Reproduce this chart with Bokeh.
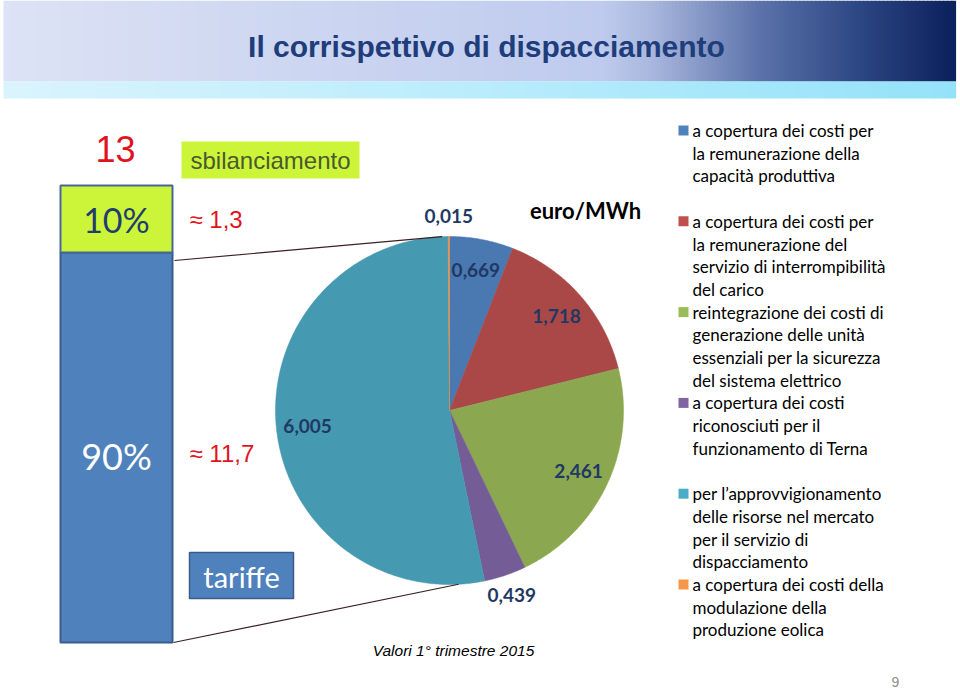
import numpy as np
from bokeh.plotting import figure
from bokeh.models import Range1d
from bokeh.core.properties import value
from bokeh.embed import file_html
from bokeh.resources import INLINE

# ---------------- data ----------------
title = "Il corrispettivo di dispacciamento"
categories = [
    "a copertura dei costi per\nla remunerazione della\ncapacità produttiva\n",
    "a copertura dei costi per\nla remunerazione del\nservizio di interrompibilità\ndel carico",
    "reintegrazione dei costi di\ngenerazione delle unità\nessenziali per la sicurezza\ndel sistema elettrico",
    "a copertura dei costi\nriconosciuti per il\nfunzionamento di Terna\n",
    "per l\u2019approvvigionamento\ndelle risorse nel mercato\nper il servizio di\ndispacciamento",
    "a copertura dei costi della\nmodulazione della\nproduzione eolica",
]
values = [0.669, 1.718, 2.461, 0.439, 6.005, 0.015]
value_labels = ["0,669", "1,718", "2,461", "0,439", "6,005", "0,015"]
legend_colors = ["#4F81BD", "#C0504D", "#9BBB59", "#8064A2", "#4BACC6", "#F79646"]
pie_colors = ["#4A78B0", "#A94846", "#8BA74F", "#745C96", "#4599B1", "#E8904A"]
total_text = "13"
total_label = "sbilanciamento"
share_labels = ["10%", "90%"]
share_values = ["\u2248 1,3", "\u2248 11,7"]
tariff_label = "tariffe"
unit_label = "euro/MWh"
note = "Valori 1\u00b0 trimestre 2015"
page_no = "9"

# ---------------- figure ----------------
W, H = 960, 688
p = figure(width=W, height=H, x_range=Range1d(0, W), y_range=Range1d(H, 0),
           output_backend="svg", toolbar_location=None, min_border=0,
           x_axis_location=None, y_axis_location=None)
p.grid.visible = False
p.outline_line_color = None
p.background_fill_color = "white"
p.border_fill_color = "white"

# header gradient
def lerp_colors(stops, xs):
    sx = np.array([s[0] for s in stops], float)
    cols = np.array([[int(s[1][i:i + 2], 16) for i in (1, 3, 5)] for s in stops], float)
    out = []
    for x in xs:
        rgb = [np.interp(x, sx, cols[:, k]) for k in range(3)]
        out.append("#%02x%02x%02x" % tuple(int(round(v)) for v in rgb))
    return out

edges = np.linspace(3, 955, 239)
lefts, rights = edges[:-1], edges[1:]
mids = (lefts + rights) / 2
top_stops = [(0, "#DDE3F5"), (300, "#CDD6F1"), (600, "#BFCBEE"), (650, "#AAB8DE"),
             (760, "#5B72A9"), (860, "#2C4683"), (955, "#0B205B")]
p.quad(left=lefts, right=rights + 0.6, top=0, bottom=81,
       fill_color=lerp_colors(top_stops, mids), line_color=None)
strip_stops = [(0, "#DAF4FD"), (500, "#B8ECFC"), (955, "#94E2FA")]
p.quad(left=lefts, right=rights + 0.6, top=81, bottom=98,
       fill_color=lerp_colors(strip_stops, mids), line_color=None)

p.text(x=[486], y=[46], text=[title], text_font=value("Liberation Sans"),
       text_font_style="bold", text_font_size="30px", text_color="#1F3D7A",
       text_align="center", text_baseline="middle")

# ---------------- pie ----------------
cx, cy, r = 449, 410, 174
vals = np.array(values)
shares = vals / vals.sum()
ends = np.cumsum(shares) * 2 * np.pi
starts = ends - shares * 2 * np.pi
xs, ys = [], []
for a0, a1 in zip(starts, ends):
    t = np.linspace(a0, a1, max(3, int((a1 - a0) / 0.01)))
    xs.append(np.concatenate([[cx], cx + r * np.sin(t)]).tolist())
    ys.append(np.concatenate([[cy], cy - r * np.cos(t)]).tolist())
p.patches(xs, ys, fill_color=pie_colors, line_color=pie_colors, line_width=0.5)

mid = (starts + ends) / 2
lr = np.where(shares < 0.05, 1.12 * r, 0.82 * r)
lx = cx + lr * np.sin(mid)
ly = cy - lr * np.cos(mid)
p.text(x=lx, y=ly, text=value_labels, text_font=value("Lato"), text_font_style="bold",
       text_font_size="19px", text_color="#1F3864", text_align="center", text_baseline="middle")

p.text(x=[585], y=[210], text=[unit_label], text_font=value("Lato"), text_font_style="bold",
       text_font_size="22px", text_color="#000000", text_align="center", text_baseline="middle")
p.text(x=[453], y=[650], text=[note], text_font=value("Liberation Sans"), text_font_style="italic",
       text_font_size="15.5px", text_color="#000000", text_align="center", text_baseline="middle")

# ---------------- left stacked box ----------------
bx0, bx1 = 60, 172
p.quad(left=[bx0], right=[bx1], top=[252], bottom=[642], fill_color="#4F81BD",
       line_color="#385D8A", line_width=2)
p.quad(left=[bx0], right=[bx1], top=[185], bottom=[252], fill_color="#CCF53A",
       line_color="#46669A", line_width=2)
p.text(x=[116, 116], y=[219, 455], text=share_labels, text_font=value("Lato"),
       text_font_size=["34px", "36px"], text_color=["#1F3D6E", "#FFFFFF"],
       text_align="center", text_baseline="middle")

# connectors to the pie
ta = np.deg2rad(-2.4)
ba = np.deg2rad(177)
p.segment(x0=[174, 173], y0=[260, 642],
          x1=[cx + r * np.sin(ta), cx + r * np.sin(ba)],
          y1=[cy - r * np.cos(ta), cy - r * np.cos(ba)],
          line_color="#3B2020", line_width=1.2)

p.text(x=[115], y=[148], text=[total_text], text_font=value("Liberation Sans"),
       text_font_size="36px", text_color="#E0141E", text_align="center", text_baseline="middle")
p.quad(left=[181], right=[359], top=[141], bottom=[178], fill_color="#CCF53A", line_color=None)
p.text(x=[270], y=[160], text=[total_label], text_font=value("Liberation Sans"),
       text_font_size="24px", text_color="#4A5A2C", text_align="center", text_baseline="middle")
p.text(x=[189, 189], y=[219, 453], text=share_values, text_font=value("Liberation Sans"),
       text_font_size="24px", text_color="#E0141E", text_align="left", text_baseline="middle")

p.quad(left=[189], right=[293], top=[552], bottom=[598], fill_color="#4F81BD",
       line_color="#385D8A", line_width=1.5)
p.text(x=[241], y=[576], text=[tariff_label], text_font=value("Lato"),
       text_font_size="29px", text_color="#FFFFFF", text_align="center", text_baseline="middle")

# ---------------- legend ----------------
line_h = 22.7
y0 = 130
idx = 0
tx, ty, tt = [], [], []
sqx, sqy = [], []
for lab in categories:
    lines = lab.split("\n")
    sqy.append(y0 + idx * line_h)
    for ln in lines:
        if ln:
            tx.append(692)
            ty.append(y0 + idx * line_h)
            tt.append(ln)
        idx += 1
p.rect(x=[683] * len(sqy), y=sqy, width=10, height=10, fill_color=legend_colors, line_color=None)
p.text(x=tx, y=ty, text=tt, text_font=value("Lato"), text_font_size="17px",
       text_color="#000000", text_align="left", text_baseline="middle")

p.text(x=[895], y=[681], text=[page_no], text_font=value("Liberation Sans"),
       text_font_size="14px", text_color="#8C8C8C", text_align="center", text_baseline="middle")

open("out.html", "w").write(file_html(p, INLINE))
